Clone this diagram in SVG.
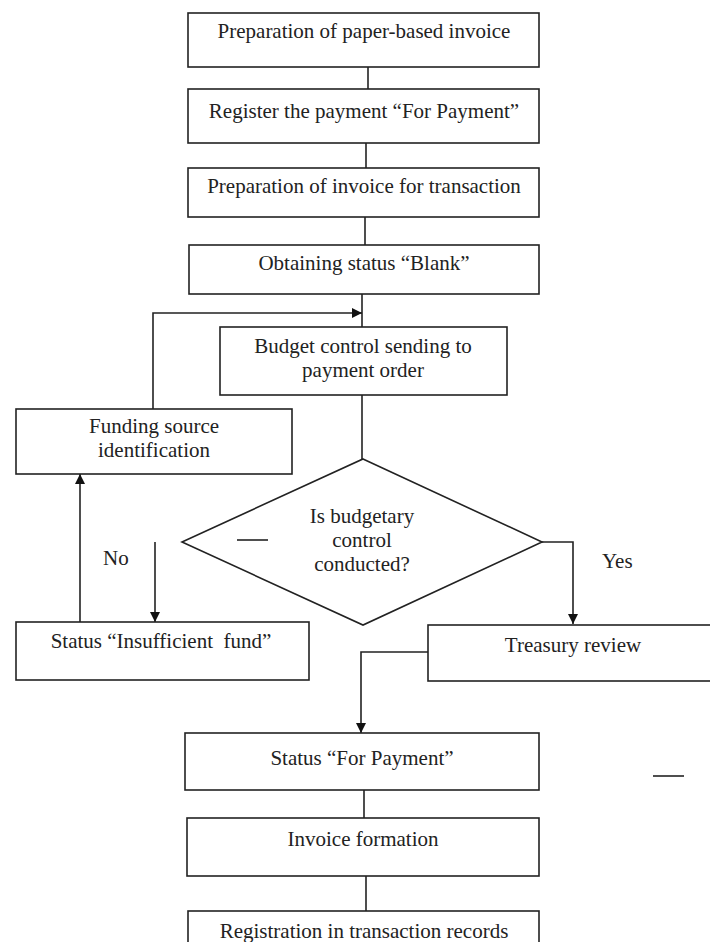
<svg xmlns="http://www.w3.org/2000/svg" width="710" height="942" viewBox="0 0 710 942">
<defs>
<style>
.box{fill:#fff;stroke:#222;stroke-width:1.6}
.ln{fill:none;stroke:#222;stroke-width:1.6}
.t{font-family:"Liberation Serif","Times New Roman",serif;font-size:21px;fill:#222;text-anchor:middle}
.ts{font-family:"Liberation Serif","Times New Roman",serif;font-size:21px;fill:#222}
</style>
<marker id="arr" viewBox="0 0 10 10" refX="10" refY="5" markerWidth="11" markerHeight="10" markerUnits="userSpaceOnUse" orient="auto">
<path d="M0,0 L10,5 L0,10 Z" fill="#111"/>
</marker>
</defs>
<rect width="710" height="942" fill="#fff"/>

<g id="connectors">
<line class="ln" x1="368" y1="67" x2="368" y2="89"/>
<line class="ln" x1="366" y1="143" x2="366" y2="168"/>
<line class="ln" x1="365" y1="217" x2="365" y2="245"/>
<line class="ln" x1="362" y1="294" x2="362" y2="327"/>
<polyline class="ln" points="153,409 153,313 362,313" marker-end="url(#arr)"/>
<line class="ln" x1="362" y1="395" x2="362" y2="459"/>
<polyline class="ln" points="542,542 573,542 573,624" marker-end="url(#arr)"/>
<line class="ln" x1="155" y1="542" x2="155" y2="622" marker-end="url(#arr)"/>
<line class="ln" x1="80" y1="622" x2="80" y2="474" marker-end="url(#arr)"/>
<polyline class="ln" points="428,652 361,652 361,733" marker-end="url(#arr)"/>
<line class="ln" x1="364" y1="790" x2="364" y2="818"/>
<line class="ln" x1="366" y1="876" x2="366" y2="911"/>
</g>

<g id="n1"><rect class="box" x="188" y="13" width="351" height="54"/><text class="t" x="364" y="38">Preparation of paper-based invoice</text></g>
<g id="n2"><rect class="box" x="188" y="89" width="351" height="54"/><text class="t" x="364" y="118">Register the payment “For Payment”</text></g>
<g id="n3"><rect class="box" x="188" y="168" width="351" height="49"/><text class="t" x="364" y="193">Preparation of invoice for transaction</text></g>
<g id="n4"><rect class="box" x="189" y="245" width="350" height="49"/><text class="t" x="364" y="270">Obtaining status “Blank”</text></g>
<g id="n5"><rect class="box" x="220" y="327" width="287" height="68"/><text class="t" x="363" y="353">Budget control sending to</text><text class="t" x="363" y="377">payment order</text></g>
<g id="n6"><rect class="box" x="16" y="409" width="276" height="65"/><text class="t" x="154" y="433">Funding source</text><text class="t" x="154" y="457">identification</text></g>
<g id="n7"><polygon class="box" points="363,459 542,542 363,625 182,542"/><text class="t" x="362" y="523">Is budgetary</text><text class="t" x="362" y="547">control</text><text class="t" x="362" y="571">conducted?</text><line class="ln" x1="237" y1="540" x2="268" y2="540"/></g>
<g id="n8"><rect class="box" x="16" y="622" width="293" height="58"/><text class="t" x="161" y="648" xml:space="preserve">Status “Insufficient  fund”</text></g>
<g id="n9"><rect class="box" x="428" y="625" width="300" height="56"/><text class="t" x="573" y="652">Treasury review</text></g>
<g id="n10"><rect class="box" x="185" y="733" width="354" height="57"/><text class="t" x="362" y="765">Status “For Payment”</text></g>
<g id="n11"><rect class="box" x="187" y="818" width="352" height="58"/><text class="t" x="363" y="846">Invoice formation</text></g>
<g id="n12"><rect class="box" x="188" y="911" width="351" height="50"/><text class="t" x="364" y="938">Registration in transaction records</text></g>

<g id="labels">
<text class="ts" x="103" y="565">No</text>
<text class="ts" x="602" y="568">Yes</text>
<line class="ln" x1="653" y1="776" x2="684" y2="776"/>
</g>
</svg>
